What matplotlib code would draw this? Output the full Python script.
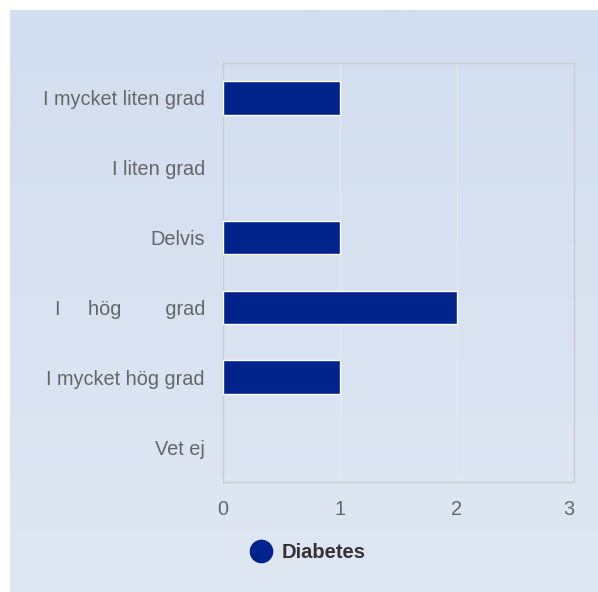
import numpy as np
import matplotlib.pyplot as plt
from matplotlib.lines import Line2D

plt.rcParams['font.family'] = ['Liberation Sans', 'DejaVu Sans']

# data
categories = ['I mycket liten grad', 'I liten grad', 'Delvis',
              'I     hög        grad', 'I mycket hög grad', 'Vet ej']
values = [1, 0, 1, 2, 1, 0]
series_name = 'Diabetes'
xticks = [0, 1, 2, 3]

bar_color = '#00238C'
text_gray = '#666666'

fig = plt.figure(figsize=(5.98, 5.92), dpi=100)
fig.patch.set_facecolor('white')

# gradient background panel
bg = fig.add_axes([10 / 598, 0, 1 - 10 / 598, 1 - 10 / 592], zorder=0)
top = np.array([0xD2, 0xDD, 0xEF]) / 255
bottom = np.array([0xDF, 0xE7, 0xF3]) / 255
t = np.linspace(0, 1, 256)[:, None]
grad = top * (1 - t) + bottom * t
bg.imshow(grad[:, None, :], aspect='auto', extent=[0, 1, 0, 1])
bg.axis('off')

# plot area in pixels: x 223..574, y 63..482
ax = fig.add_axes([223 / 598, 1 - 482 / 592, (574 - 223) / 598, (482 - 63) / 592], zorder=1)
ax.patch.set_alpha(0)

y = np.arange(len(categories))
edges = ['white' if v > 0 else 'none' for v in values]
ax.barh(y, values, height=0.48, color=bar_color, edgecolor=edges, linewidth=1, zorder=3)

ax.set_xlim(0, 3)
ax.set_ylim(len(categories) - 0.5, -0.5)
ax.set_xticks(xticks)
ax.set_xticklabels([str(v) for v in xticks])
ax.set_yticks(y)
ax.set_yticklabels(categories)
ax.tick_params(axis='both', length=0, labelsize=14.3, labelcolor=text_gray)
ax.tick_params(axis='x', pad=13)
ax.tick_params(axis='y', pad=13)
ax.get_xticklabels()[-1].set_horizontalalignment('right')

ax.grid(axis='x', color='#E4E9F0', linewidth=1, zorder=0)
for s in ax.spines.values():
    s.set_color('#C9CDD2')
    s.set_linewidth(1)

handle = Line2D([], [], marker='o', linestyle='none', markersize=16,
                markerfacecolor=bar_color, markeredgecolor=bar_color)
leg = fig.legend([handle], [series_name], loc='center left',
                 bbox_to_anchor=(223 / 598, 1 - 553 / 592), frameon=False,
                 handletextpad=0.0, prop={'weight': 'bold', 'size': 14.5})
for txt in leg.get_texts():
    txt.set_color('#333333')

fig.savefig('out.png', dpi=100)
